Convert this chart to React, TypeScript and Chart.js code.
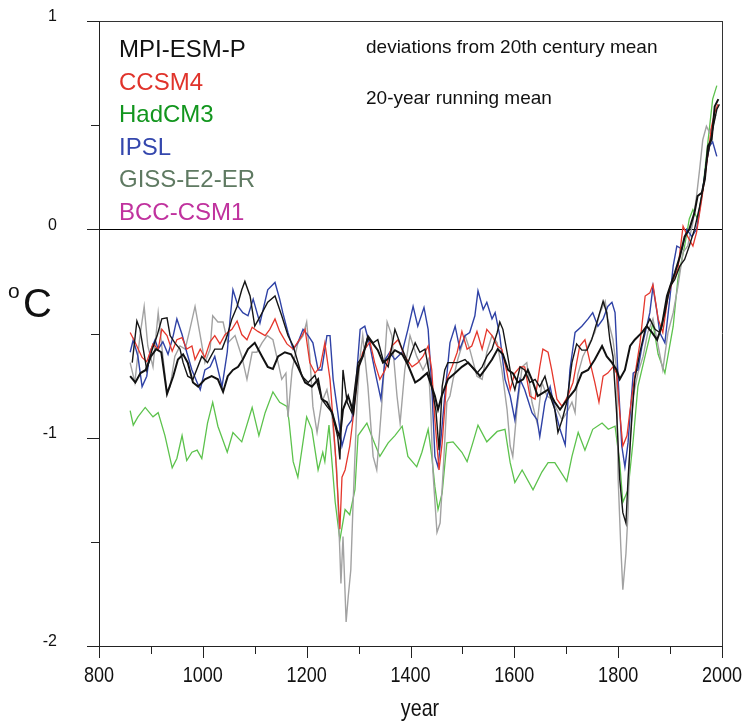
import React, { useEffect, useRef } from 'react';
import { Chart, registerables } from 'chart.js';

Chart.register(...registerables);

// ---- data: [year, deviation °C] (20-year running means) ----
const mpiA: number[][] = [
  [864,-0.64],[873,-0.44],[879,-0.48],[892,-0.675],[902,-0.58],[912,-0.51],[921,-0.43],[931,-0.425],[937,-0.51],[946,-0.545],
  [956,-0.575],[962,-0.64],[971,-0.705],[981,-0.72],[998,-0.61],[1009,-0.64],[1023,-0.575],[1037,-0.575],[1047,-0.51],[1056,-0.43],
  [1066,-0.37],[1075,-0.29],[1081,-0.25],[1091,-0.32],[1100,-0.465],[1110,-0.42],[1125,-0.35],[1139,-0.32],[1152,-0.415],[1164,-0.51],
  [1174,-0.56],[1191,-0.705],[1203,-0.735],[1216,-0.70],[1229,-0.815],[1239,-0.85],[1249,-0.88],[1255,-0.945],[1260,-1.0],[1264,-1.105],
  [1270,-0.675],[1278,-0.83],[1287,-0.88],[1293,-0.755],[1299,-0.64],[1308,-0.61],[1318,-0.51],[1328,-0.545],[1337,-0.53],[1347,-0.625],
  [1357,-0.66],[1370,-0.48],[1384,-0.575],[1395,-0.64],[1409,-0.545],[1418,-0.59],[1428,-0.575],[1443,-0.785],[1449,-0.87],[1455,-1.06],
  [1461,-0.755],[1466,-0.675],[1472,-0.64],[1491,-0.64],[1505,-0.625],[1518,-0.66],[1528,-0.69],[1538,-0.66],[1547,-0.61],[1557,-0.575],
  [1567,-0.495],[1572,-0.445],[1578,-0.48],[1586,-0.59],[1595,-0.72],[1601,-0.77],[1611,-0.66],[1620,-0.675],[1630,-0.735],[1640,-0.72],
  [1649,-0.755],[1659,-0.705],[1669,-0.80],[1678,-0.865],[1684,-0.975],[1692,-0.915],[1701,-0.83],[1711,-0.64],[1720,-0.55],[1730,-0.58],
  [1740,-0.58],[1749,-0.53],[1761,-0.43],[1771,-0.345],[1778,-0.40],[1784,-0.53],[1790,-0.61],[1797,-0.88],[1803,-1.20],[1809,-1.36],
  [1815,-1.41],[1819,-1.20],[1827,-0.88],[1832,-0.72],[1842,-0.59],[1852,-0.48],[1861,-0.43],[1871,-0.48],[1880,-0.495],[1890,-0.40],
  [1900,-0.275],[1909,-0.24],[1919,-0.175],[1928,-0.145],[1937,-0.08],[1947,0],[1957,0.11],[1963,0.19],[1970,0.32],[1976,0.40],
  [1982,0.48],[1990,0.575],[1995,0.6]
];

const mpiB: number[][] = [
  [860,-0.705],[870,-0.735],[880,-0.69],[890,-0.675],[900,-0.61],[910,-0.575],[920,-0.59],[931,-0.79],[943,-0.705],[952,-0.625],
  [962,-0.6],[971,-0.64],[981,-0.735],[991,-0.755],[1004,-0.72],[1017,-0.705],[1029,-0.72],[1039,-0.78],[1048,-0.705],[1058,-0.675],
  [1068,-0.66],[1077,-0.625],[1087,-0.575],[1100,-0.545],[1114,-0.61],[1125,-0.66],[1135,-0.67],[1145,-0.61],[1158,-0.59],[1170,-0.6],
  [1183,-0.66],[1197,-0.735],[1210,-0.755],[1222,-0.72],[1229,-0.815],[1239,-0.83],[1249,-0.88],[1258,-0.96],[1264,-1.0],[1270,-0.865],
  [1280,-0.80],[1290,-0.88],[1300,-0.66],[1308,-0.61],[1318,-0.52],[1328,-0.55],[1337,-0.58],[1347,-0.64],[1357,-0.62],[1370,-0.58],
  [1384,-0.6],[1395,-0.65],[1409,-0.735],[1418,-0.72],[1432,-0.69],[1447,-0.80],[1453,-0.865],[1460,-0.8],[1472,-0.72],[1486,-0.69],
  [1499,-0.66],[1511,-0.64],[1524,-0.675],[1534,-0.705],[1543,-0.675],[1557,-0.625],[1568,-0.575],[1578,-0.6],[1588,-0.675],[1597,-0.69],
  [1607,-0.735],[1617,-0.72],[1626,-0.675],[1636,-0.735],[1645,-0.80],[1655,-0.785],[1665,-0.77],[1678,-0.83],[1688,-0.865],[1698,-0.83],
  [1707,-0.80],[1717,-0.77],[1730,-0.69],[1742,-0.675],[1755,-0.625],[1769,-0.56],[1778,-0.61],[1788,-0.64],[1797,-0.675],[1803,-0.72],
  [1813,-0.675],[1823,-0.56],[1832,-0.53],[1846,-0.495],[1855,-0.465],[1865,-0.495],[1875,-0.53],[1884,-0.465],[1894,-0.32],[1900,-0.275],
  [1909,-0.21],[1919,-0.13],[1928,-0.035],[1937,0],[1947,0.08],[1953,0.16],[1961,0.175],[1967,0.24],[1973,0.40],[1980,0.43],
  [1986,0.59],[1993,0.625]
];

const ccsm4: number[][] = [
  [860,-0.495],[869,-0.54],[883,-0.615],[892,-0.635],[904,-0.55],[914,-0.575],[921,-0.48],[931,-0.51],[941,-0.585],[950,-0.53],
  [960,-0.52],[969,-0.575],[979,-0.56],[985,-0.625],[995,-0.575],[1004,-0.615],[1014,-0.54],[1023,-0.51],[1033,-0.55],[1043,-0.505],
  [1056,-0.48],[1066,-0.44],[1075,-0.505],[1085,-0.53],[1095,-0.47],[1106,-0.49],[1120,-0.51],[1129,-0.48],[1139,-0.43],[1148,-0.49],
  [1162,-0.55],[1174,-0.575],[1191,-0.51],[1197,-0.48],[1206,-0.64],[1216,-0.69],[1226,-0.66],[1235,-0.545],[1245,-0.72],[1255,-1.06],
  [1264,-1.44],[1268,-1.19],[1274,-1.155],[1283,-1.04],[1289,-0.915],[1299,-0.675],[1308,-0.59],[1322,-0.54],[1331,-0.64],[1341,-0.72],
  [1351,-0.675],[1364,-0.56],[1376,-0.53],[1389,-0.61],[1403,-0.66],[1414,-0.64],[1424,-0.61],[1434,-0.56],[1441,-0.675],[1447,-0.915],
  [1455,-1.155],[1461,-1.025],[1470,-0.72],[1480,-0.66],[1490,-0.59],[1499,-0.49],[1509,-0.575],[1518,-0.56],[1528,-0.49],[1538,-0.575],
  [1547,-0.48],[1557,-0.51],[1567,-0.56],[1576,-0.575],[1586,-0.69],[1592,-0.77],[1601,-0.69],[1611,-0.66],[1620,-0.66],[1630,-0.80],
  [1640,-0.815],[1649,-0.66],[1655,-0.575],[1665,-0.59],[1672,-0.675],[1682,-0.815],[1692,-0.85],[1703,-0.80],[1713,-0.735],[1726,-0.56],
  [1736,-0.53],[1746,-0.64],[1755,-0.735],[1763,-0.83],[1771,-0.705],[1780,-0.69],[1790,-0.66],[1797,-0.69],[1803,-0.88],[1809,-1.04],
  [1817,-0.99],[1823,-0.865],[1832,-0.705],[1842,-0.545],[1852,-0.32],[1861,-0.305],[1867,-0.265],[1877,-0.43],[1886,-0.495],[1896,-0.32],
  [1906,-0.24],[1915,-0.19],[1925,0.015],[1934,-0.035],[1944,-0.08],[1951,-0.015],[1961,0.145],[1970,0.305],[1980,0.495],[1986,0.56],
  [1992,0.6]
];

const hadcm3: number[][] = [
  [860,-0.87],[866,-0.94],[875,-0.90],[889,-0.855],[904,-0.90],[914,-0.88],[927,-0.99],[941,-1.145],[950,-1.10],[960,-0.99],
  [969,-1.11],[979,-1.07],[989,-1.06],[998,-1.10],[1009,-0.93],[1019,-0.83],[1029,-0.945],[1047,-1.07],[1058,-0.975],[1075,-1.02],
  [1095,-0.855],[1108,-0.99],[1120,-0.88],[1135,-0.78],[1148,-0.83],[1162,-0.85],[1166,-0.92],[1174,-1.115],[1183,-1.19],[1200,-0.90],
  [1210,-0.96],[1222,-1.155],[1231,-1.07],[1235,-1.115],[1243,-0.94],[1255,-1.31],[1264,-1.49],[1274,-1.345],[1283,-1.37],[1293,-1.25],
  [1299,-0.99],[1316,-0.93],[1328,-1.01],[1341,-1.09],[1357,-1.025],[1370,-0.99],[1384,-0.945],[1395,-1.09],[1412,-1.14],[1422,-1.07],
  [1434,-0.96],[1441,-1.09],[1447,-1.235],[1453,-1.345],[1461,-1.265],[1470,-1.025],[1482,-1.02],[1499,-1.07],[1509,-1.115],[1520,-1.025],
  [1530,-0.94],[1547,-1.02],[1567,-0.97],[1582,-0.96],[1592,-1.12],[1601,-1.215],[1615,-1.155],[1636,-1.25],[1653,-1.165],[1665,-1.12],
  [1678,-1.12],[1701,-1.21],[1711,-1.09],[1723,-0.975],[1736,-1.06],[1751,-0.96],[1769,-0.93],[1781,-0.96],[1794,-0.945],[1803,-1.12],
  [1809,-1.31],[1819,-1.25],[1829,-1.01],[1838,-0.755],[1855,-0.575],[1867,-0.45],[1877,-0.60],[1890,-0.69],[1906,-0.465],[1915,-0.24],
  [1928,-0.08],[1937,0.05],[1944,0.095],[1953,0.05],[1963,0.19],[1972,0.40],[1982,0.625],[1990,0.69]
];

const ipsl: number[][] = [
  [860,-0.59],[866,-0.53],[875,-0.61],[883,-0.755],[892,-0.705],[898,-0.59],[908,-0.53],[914,-0.575],[923,-0.54],[933,-0.60],
  [943,-0.51],[950,-0.43],[960,-0.505],[969,-0.59],[979,-0.675],[989,-0.735],[995,-0.77],[1004,-0.675],[1014,-0.66],[1023,-0.61],
  [1037,-0.755],[1047,-0.59],[1052,-0.445],[1058,-0.29],[1068,-0.37],[1077,-0.40],[1087,-0.415],[1097,-0.335],[1110,-0.45],[1125,-0.29],
  [1139,-0.255],[1148,-0.335],[1154,-0.40],[1164,-0.495],[1174,-0.575],[1183,-0.545],[1193,-0.48],[1203,-0.51],[1212,-0.545],[1222,-0.675],
  [1229,-0.675],[1239,-0.51],[1245,-0.51],[1251,-0.72],[1260,-0.88],[1268,-1.04],[1278,-0.945],[1287,-0.915],[1293,-0.80],[1303,-0.48],
  [1312,-0.465],[1322,-0.56],[1331,-0.675],[1343,-0.815],[1351,-0.625],[1360,-0.59],[1370,-0.625],[1384,-0.59],[1395,-0.48],[1405,-0.37],
  [1414,-0.465],[1426,-0.375],[1434,-0.48],[1441,-0.755],[1447,-1.09],[1453,-1.14],[1459,-0.995],[1466,-0.80],[1476,-0.545],[1486,-0.465],
  [1495,-0.575],[1505,-0.51],[1514,-0.495],[1524,-0.415],[1530,-0.295],[1540,-0.385],[1547,-0.35],[1557,-0.43],[1563,-0.40],[1572,-0.51],
  [1582,-0.72],[1592,-0.80],[1601,-0.915],[1611,-0.72],[1620,-0.77],[1634,-0.88],[1644,-0.915],[1649,-0.995],[1659,-0.83],[1669,-0.755],
  [1678,-0.865],[1688,-0.96],[1698,-1.035],[1707,-0.675],[1717,-0.495],[1730,-0.465],[1742,-0.43],[1751,-0.40],[1761,-0.465],[1771,-0.43],
  [1780,-0.37],[1788,-0.35],[1794,-0.40],[1800,-0.72],[1807,-1.04],[1813,-1.14],[1819,-1.025],[1829,-0.69],[1838,-0.675],[1846,-0.56],
  [1855,-0.465],[1861,-0.40],[1867,-0.275],[1875,-0.40],[1880,-0.495],[1890,-0.545],[1900,-0.32],[1906,-0.175],[1913,-0.08],[1923,-0.095],
  [1932,0],[1942,-0.035],[1951,0],[1961,0.16],[1970,0.32],[1976,0.40],[1982,0.42],[1990,0.35]
];

const giss: number[][] = [
  [860,-0.64],[869,-0.735],[879,-0.51],[887,-0.37],[894,-0.56],[904,-0.66],[914,-0.40],[923,-0.61],[931,-0.785],[937,-0.755],
  [946,-0.61],[956,-0.56],[966,-0.575],[975,-0.48],[985,-0.37],[995,-0.51],[1004,-0.64],[1014,-0.575],[1019,-0.415],[1029,-0.445],
  [1039,-0.445],[1048,-0.545],[1062,-0.51],[1075,-0.61],[1085,-0.72],[1095,-0.59],[1104,-0.59],[1114,-0.545],[1124,-0.51],[1135,-0.53],
  [1145,-0.64],[1152,-0.72],[1160,-0.69],[1164,-0.90],[1172,-0.675],[1183,-0.545],[1193,-0.51],[1200,-0.445],[1206,-0.61],[1212,-0.85],
  [1220,-0.975],[1229,-0.83],[1239,-0.77],[1249,-0.90],[1258,-1.155],[1264,-1.555],[1266,-1.70],[1270,-1.475],[1276,-1.885],[1280,-1.765],
  [1285,-1.635],[1289,-1.345],[1297,-0.83],[1303,-0.61],[1308,-0.51],[1318,-0.755],[1328,-1.09],[1335,-1.155],[1345,-0.83],[1355,-0.445],
  [1364,-0.51],[1374,-0.80],[1380,-0.93],[1389,-0.675],[1399,-0.51],[1412,-0.61],[1424,-0.675],[1434,-0.625],[1439,-0.865],[1443,-1.155],
  [1451,-1.455],[1457,-1.41],[1463,-1.155],[1470,-0.83],[1476,-0.80],[1482,-0.72],[1491,-0.625],[1505,-0.51],[1514,-0.575],[1528,-0.705],
  [1538,-0.72],[1547,-0.59],[1557,-0.51],[1567,-0.545],[1576,-0.675],[1586,-0.865],[1592,-1.04],[1597,-1.09],[1605,-0.865],[1615,-0.66],
  [1624,-0.64],[1634,-0.83],[1644,-0.93],[1653,-0.735],[1663,-0.80],[1672,-0.815],[1682,-0.865],[1692,-0.915],[1701,-0.88],[1711,-0.83],
  [1717,-0.88],[1722,-0.70],[1732,-0.61],[1742,-0.56],[1755,-0.495],[1765,-0.40],[1775,-0.345],[1780,-0.43],[1790,-0.53],[1797,-0.675],
  [1800,-1.20],[1805,-1.52],[1809,-1.73],[1815,-1.555],[1819,-1.36],[1823,-1.01],[1829,-0.80],[1838,-0.69],[1848,-0.61],[1857,-0.495],
  [1867,-0.43],[1877,-0.56],[1886,-0.675],[1896,-0.495],[1906,-0.40],[1915,-0.275],[1925,-0.11],[1934,-0.08],[1944,0.035],[1951,0.16],
  [1957,0.29],[1963,0.43],[1970,0.495],[1976,0.465],[1982,0.50],[1988,0.55]
];

const tickYears = [800, 1000, 1200, 1400, 1600, 1800, 2000];
const tickDegrees = [-2, -1, 0, 1];

const legendNames = ['MPI-ESM-P', 'CCSM4', 'HadCM3', 'IPSL', 'GISS-E2-ER', 'BCC-CSM1'];
const legendColors = ['#111111', '#e0332b', '#12961e', '#3447ad', '#5f7a62', '#c0329e'];

const SANS = "'Liberation Sans', Arial, Helvetica, sans-serif";

const toPts = (arr: number[][]) => arr.map(([x, y]) => ({ x, y }));

// Narrow (condensed) text, as in the original axis labels
function narrowText(ctx: CanvasRenderingContext2D, text: string, x: number, y: number, size: number, squeeze: number) {
  ctx.save();
  ctx.translate(x, y);
  ctx.scale(squeeze, 1);
  ctx.font = `${size}px ${SANS}`;
  ctx.textAlign = 'center';
  ctx.textBaseline = 'alphabetic';
  ctx.fillText(text, 0, 0);
  ctx.restore();
}

const textPlugin = {
  id: 'overlayTexts',
  afterDraw(chart: any) {
    const ctx = chart.ctx as CanvasRenderingContext2D;
    const xs = chart.scales.x;
    const ys = chart.scales.y;
    const { left, bottom } = chart.chartArea;
    ctx.save();

    // tick marks: long at labelled values, short in between
    ctx.strokeStyle = '#222';
    ctx.lineWidth = 1;
    ctx.beginPath();
    ys.ticks.forEach((t: any) => {
      const py = Math.round(ys.getPixelForValue(t.value)) + 0.5;
      const len = tickDegrees.includes(t.value) ? 12 : 8;
      ctx.moveTo(left - len, py);
      ctx.lineTo(left, py);
    });
    xs.ticks.forEach((t: any) => {
      const px = Math.round(xs.getPixelForValue(t.value)) + 0.5;
      const len = tickYears.includes(t.value) ? 12 : 8;
      ctx.moveTo(px, bottom);
      ctx.lineTo(px, bottom + len);
    });
    ctx.stroke();

    ctx.fillStyle = '#111';
    tickYears.forEach((yr) => narrowText(ctx, String(yr), xs.getPixelForValue(yr), 682, 22, 0.82));
    narrowText(ctx, 'year', 420, 716, 24, 0.82);

    ctx.textAlign = 'left';
    ctx.textBaseline = 'alphabetic';
    ctx.font = `24px ${SANS}`;
    legendNames.forEach((name, i) => {
      ctx.fillStyle = legendColors[i];
      ctx.fillText(name, 119, 57 + i * 32.6);
    });
    ctx.fillStyle = '#111';
    ctx.font = `19px ${SANS}`;
    ctx.fillText('deviations from 20th century mean', 366, 53);
    ctx.fillText('20-year running mean', 366, 104);
    ctx.font = `21px ${SANS}`;
    ctx.fillText('o', 8, 298);
    ctx.font = `40px ${SANS}`;
    ctx.fillText('C', 23, 317);
    ctx.restore();
  },
};

export default function App() {
  const canvasRef = useRef<HTMLCanvasElement | null>(null);

  useEffect(() => {
    document.body.style.margin = '0';
    const canvas = canvasRef.current;
    if (!canvas) return;
    const line = (label: string, data: number[][], color: string, width: number) => ({
      label,
      data: toPts(data),
      borderColor: color,
      backgroundColor: color,
      borderWidth: width,
      pointRadius: 0,
      tension: 0,
      fill: false,
    });
    const chart = new Chart(canvas, {
      type: 'line',
      data: {
        datasets: [
          line('MPI-ESM-P', mpiA, '#151515', 1.4),
          line('MPI-ESM-P (2)', mpiB, '#111111', 2),
          line('CCSM4', ccsm4, '#e5372c', 1.3),
          line('IPSL', ipsl, '#2f42a6', 1.4),
          line('GISS-E2-ER', giss, '#a2a2a2', 1.4),
          line('HadCM3', hadcm3, '#5cc24c', 1.3),
        ],
      },
      options: {
        responsive: false,
        animation: false,
        events: [],
        layout: { padding: { top: 21, right: 21, left: 0, bottom: 0 } },
        plugins: { legend: { display: false }, tooltip: { enabled: false }, title: { display: false } },
        scales: {
          x: {
            type: 'linear',
            min: 800,
            max: 2000,
            afterFit: (s: any) => { s.height = 80; s.paddingLeft = 0; s.paddingRight = 0; },
            ticks: {
              stepSize: 100,
              autoSkip: false,
              maxRotation: 0,
              display: false,
            },
            grid: {
              drawOnChartArea: true,
              drawTicks: false,
              lineWidth: 1,
              color: (c: any) => (c.tick && c.tick.value === 2000 ? '#333' : 'rgba(0,0,0,0)'),
            },
            border: { display: true, color: '#222', width: 1 },
            title: { display: false },
          },
          y: {
            type: 'linear',
            min: -2,
            max: 1,
            afterFit: (s: any) => { s.width = 99; s.paddingTop = 0; s.paddingBottom = 0; },
            ticks: {
              stepSize: 0.5,
              autoSkip: false,
              padding: 42,
              labelOffset: -4,
              color: '#111',
              font: { family: SANS, size: 16 },
              callback: (v: any) => (tickDegrees.includes(Number(v)) ? String(v) : ''),
            },
            grid: {
              drawOnChartArea: true,
              drawTicks: false,
              lineWidth: 1,
              color: (c: any) => {
                const v = c.tick ? c.tick.value : NaN;
                if (v === 0) return '#000';
                if (v === 1) return '#333';
                return 'rgba(0,0,0,0)';
              },
            },
            border: { display: true, color: '#222', width: 1 },
          },
        },
      },
      plugins: [textPlugin],
    } as any);
    return () => chart.destroy();
  }, []);

  return (
    <div style={{ position: 'absolute', left: 0, top: 0, width: 743, height: 726, background: '#fff' }}>
      <canvas ref={canvasRef} width={743} height={726} style={{ width: 743, height: 726, display: 'block' }} />
    </div>
  );
}
